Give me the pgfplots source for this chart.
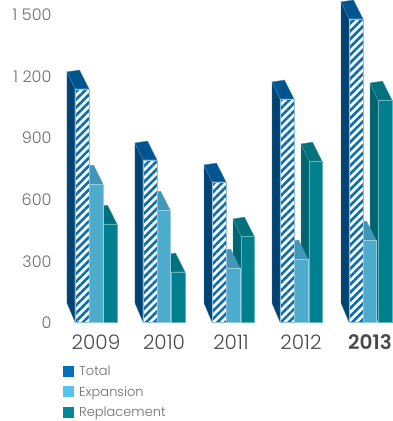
\documentclass[border=0pt]{standalone}
\usepackage{fontspec}
\setmainfont{Poppins}[UprightFont=* Light,BoldFont=* SemiBold]
\usepackage{pgfplots}
\pgfplotsset{compat=1.18}
\usetikzlibrary{patterns.meta}
\definecolor{totfront}{HTML}{0A6DAE}
\definecolor{totside}{HTML}{004272}
\definecolor{tottop}{HTML}{00548F}
\definecolor{totkey}{HTML}{0070BA}
\definecolor{expfront}{HTML}{4DABCC}
\definecolor{exptop}{HTML}{4297B8}
\definecolor{expkey}{HTML}{55C4EC}
\definecolor{repfront}{HTML}{00808F}
\definecolor{repside}{HTML}{00656F}
\definecolor{reptop}{HTML}{00727E}
\definecolor{repkey}{HTML}{008A99}
\definecolor{ticktext}{HTML}{6E6E6E}
\definecolor{yeartext}{HTML}{4A4A4A}
\pgfplotsset{
  face/.style={forget plot,no markers,sharp plot,line width=0.35pt},
  total front/.style={face,fill=white,draw=totfront!45!white,
    postaction={pattern={Lines[angle=45,distance=5.6pt,line width=2.6pt]},pattern color=totfront}},
  total side/.style={face,fill=totside,draw=totside!70!white},
  total top/.style={face,fill=tottop,draw=tottop!70!white},
  expansion front/.style={face,fill=expfront,draw=expfront!60!white},
  expansion side/.style={face,fill=exptop,draw=exptop},
  expansion top/.style={face,fill=exptop,draw=exptop},
  replacement front/.style={face,fill=repfront,draw=repfront!60!white},
  replacement side/.style={face,fill=repside,draw=repside!70!white},
  replacement top/.style={face,fill=reptop,draw=reptop!70!white},
}
% One column: left edge, right edge, value, series name.
% The depth of the column is 8 units to the left and about 85 value units up.
\newcommand\column[4]{%
  \pgfmathsetmacro\xbl{#1-8}%
  \pgfmathsetmacro\xbr{#2-9.5}%
  \pgfmathsetmacro\ybl{#3+83}%
  \pgfmathsetmacro\ybr{#3+92}%
  \edef\faces{%
    \noexpand\addplot[#4 side] coordinates {(#1,0) (#1,#3) (\xbl,\ybl) (\xbl,92) (#1,0)};
    \noexpand\addplot[#4 top] coordinates {(#1,#3) (#2,#3) (\xbr,\ybr) (\xbl,\ybl) (#1,#3)};
    \noexpand\addplot[#4 front] coordinates {(#1,0) (#2,0) (#2,#3) (#1,#3) (#1,0)};
  }%
  \faces
}
\begin{document}
\begin{tikzpicture}[x=1pt,y=1pt]
\path[use as bounding box] (-62,-99) rectangle (331,322);
\begin{axis}[
  at={(0pt,0pt)},anchor=south west,
  scale only axis,width=331pt,height=322pt,
  xmin=62,xmax=393,ymin=0,ymax=1568,
  axis line style={draw=none},
  major tick length=0pt,
  clip=false,
  ytick={0,300,600,900,1200,1500},
  yticklabels={0,300,600,900,1\hspace{4.5pt}200,1\hspace{4.5pt}500},
  yticklabel style={font=\fontsize{16}{16}\selectfont,text=ticktext,anchor=east,xshift=-7pt,yshift=-1pt},
  xtick={96,164,231,301,370},
  xticklabels={2009,2010,2011,2012,\textbf{2013}},
  xticklabel style={font=\fontsize{20}{20}\selectfont,text=yeartext,anchor=center,yshift=-20pt},
  legend image code/.code={\fill[draw=none,#1] (0pt,-5.5pt) rectangle (11pt,5.5pt);},
  legend style={at={(1pt,-43.5pt)},anchor=north west,draw=none,fill=none,inner sep=0pt,
    font=\fontsize{13}{15}\selectfont,text=ticktext,row sep=9.5pt,column sep=5pt,
    nodes={inner sep=0pt,anchor=west}},
  legend cell align=left,
]
% 2009
\column{103}{117}{477}{replacement}
\column{89}{103}{672}{expansion}
\column{75}{89}{1135}{total}
% 2010
\column{171}{185}{244}{replacement}
\column{157}{170}{545}{expansion}
\column{143}{157}{789}{total}
% 2011
\column{241}{254}{419}{replacement}
\column{226}{240}{263}{expansion}
\column{212}{226}{682}{total}
% 2012
\column{309}{322}{784}{replacement}
\column{294}{308}{307}{expansion}
\column{280}{294}{1086}{total}
% 2013
\column{378}{392}{1081}{replacement}
\column{363}{376}{399}{expansion}
\column{349}{363}{1476}{total}
\addlegendimage{draw=none,fill=totkey}\addlegendentry{Total}
\addlegendimage{draw=none,fill=expkey}\addlegendentry{Expansion}
\addlegendimage{draw=none,fill=repkey}\addlegendentry{Replacement}
\end{axis}
\end{tikzpicture}
\end{document}
